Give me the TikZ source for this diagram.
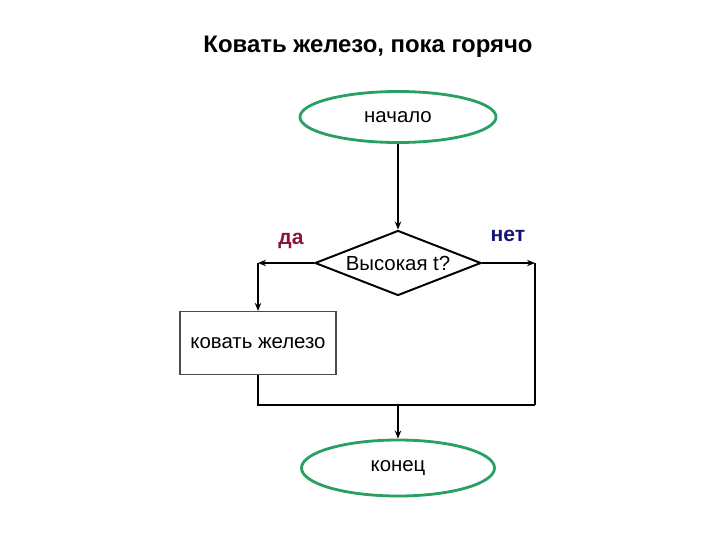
\documentclass[tikz,border=0pt]{standalone}
\usepackage{fontspec}
\setmainfont{Liberation Sans}
\usetikzlibrary{shapes.geometric,arrows.meta}
\definecolor{termgreen}{RGB}{40,160,100}
\definecolor{yescol}{RGB}{140,20,60}
\definecolor{nocol}{RGB}{20,20,120}
\begin{document}
\begin{tikzpicture}[
		x=0.025cm, y=-0.025cm,
		font=\fontsize{14.5}{17}\selectfont,
		term/.style={ellipse, draw=termgreen, line width=2pt, inner sep=0pt},
		decision/.style={diamond, aspect=2.55, draw, line width=1.4pt, inner sep=0pt, minimum width=4.15cm, minimum height=1.625cm},
		action/.style={rectangle, draw=black!70, line width=0.8pt, minimum width=3.9cm, minimum height=1.575cm},
		branch/.style={font=\fontsize{15}{17}\selectfont\bfseries},
		flow/.style={line width=1.4pt},
		arrow/.style={flow, -{Stealth[length=2mm, width=1.6mm]}}]
		
		\useasboundingbox (0,0) rectangle (720,540);
		
		\node[font=\fontsize{17}{20}\selectfont\bfseries] (title) at (368,47) {Ковать железо, пока горячо};
		
		\node[term, minimum width=4.9cm, minimum height=1.275cm] (start) at (398,117) {начало};
		\node[decision] (test) at (398,263) {Высокая t?};
		\node[action] (forge) at (258,343) {ковать железо};
		\node[term, minimum width=4.825cm, minimum height=1.4cm] (stop) at (398,468) {конец};
		
		\coordinate (yesturn) at (258,263);
		\coordinate (noturn) at (535,263);
		\coordinate (joinL) at (258,405);
		\coordinate (joinM) at (398,405);
		\coordinate (joinR) at (535,405);
		
		\node[branch, text=yescol] (yes) at (291,241) {да};
		\node[branch, text=nocol] (no) at (508,236) {нет};
		
		\draw[arrow] (start) -- (test);
		\draw[arrow] (test.west) -- (yesturn);
		\draw[arrow] (yesturn) -- (forge);
		\draw[arrow] (test.east) -- (noturn);
		\draw[flow] (noturn) -- (joinR);
		\draw[flow] (forge) -- (joinL) -- (joinR);
		\draw[arrow] (joinM) -- (stop);
		
	\end{tikzpicture}
\end{document}
